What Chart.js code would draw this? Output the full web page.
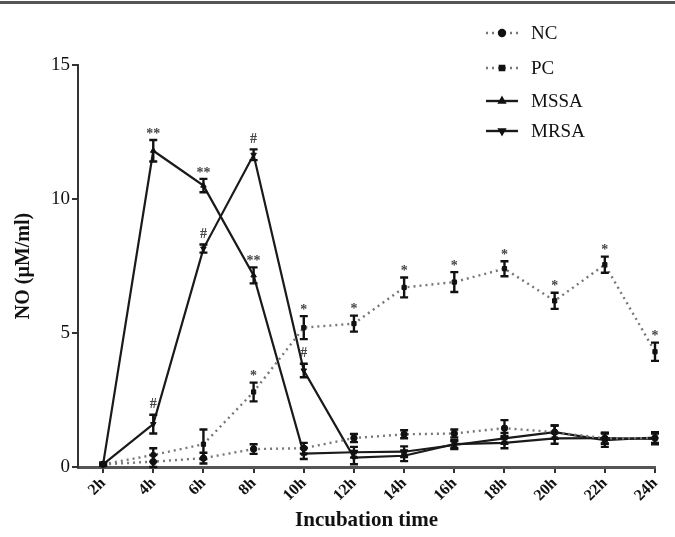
<!DOCTYPE html>
<html>
<head>
<meta charset="utf-8">
<script src="https://cdn.jsdelivr.net/npm/chart.js@4/dist/chart.umd.min.js"></script>
<style>
  html, body { margin: 0; padding: 0; background: #fff; }
  #wrap { width: 675px; height: 537px; }
</style>
</head>
<body>
<div id="wrap"><canvas id="chart" width="675" height="537"></canvas></div>
<script>
// incubation time points (hours)
const hours = [2, 4, 6, 8, 10, 12, 14, 16, 18, 20, 22, 24];
const yTicks = [0, 5, 10, 15];

const ncValues   = [0.1, 0.2, 0.33, 0.67, 0.7, 1.08, 1.22, 1.25, 1.45, 1.3, 1.07, 1.08];
const ncErr      = [0.05, 0.25, 0.2, 0.18, 0.2, 0.15, 0.15, 0.15, 0.3, 0.25, 0.2, 0.2];
const pcValues   = [0.1, 0.45, 0.85, 2.8, 5.2, 5.35, 6.7, 6.9, 7.4, 6.2, 7.55, 4.3];
const pcErr      = [0.05, 0.25, 0.55, 0.35, 0.43, 0.3, 0.37, 0.37, 0.28, 0.3, 0.3, 0.34];
const mssaValues = [0.1, 11.8, 10.5, 7.15, 0.5, 0.55, 0.57, 0.82, 1.07, 1.3, 1.0, 1.1];
const mssaErr    = [0.05, 0.4, 0.25, 0.3, 0.2, 0.2, 0.2, 0.15, 0.2, 0.25, 0.25, 0.2];
const mrsaValues = [0.1, 1.6, 8.15, 11.65, 3.6, 0.35, 0.42, 0.85, 0.9, 1.07, 1.08, 1.05];
const mrsaErr    = [0.05, 0.35, 0.15, 0.2, 0.25, 0.25, 0.2, 0.15, 0.2, 0.2, 0.2, 0.2];

// significance marks
const ncMarks   = ['', '', '', '', '', '', '', '', '', '', '', ''];
const pcMarks   = ['', '', '', '*', '*', '*', '*', '*', '*', '*', '*', '*'];
const mssaMarks = ['', '**', '**', '**', '', '', '', '', '', '', '', ''];
const mrsaMarks = ['', '#', '#', '#', '#', '', '', '', '', '', '', ''];

const toPoints = vals => hours.map((h, i) => ({ x: h, y: vals[i] }));

const series = [
  { label: 'NC', values: ncValues, err: ncErr, marks: ncMarks, dotted: true, style: 'circle', rot: 0 },
  { label: 'PC', values: pcValues, err: pcErr, marks: pcMarks, dotted: true, style: 'rect', rot: 0 },
  { label: 'MSSA', values: mssaValues, err: mssaErr, marks: mssaMarks, dotted: false, style: 'triangle', rot: 0 },
  { label: 'MRSA', values: mrsaValues, err: mrsaErr, marks: mrsaMarks, dotted: false, style: 'triangle', rot: 180 }
];

const datasets = series.map(s => ({
  label: s.label,
  data: toPoints(s.values),
  borderColor: s.dotted ? '#777' : '#1a1a1a',
  borderWidth: s.dotted ? 2.4 : 2.2,
  borderDash: s.dotted ? [2, 4] : [],
  pointStyle: s.style,
  rotation: s.rot,
  pointRadius: s.style === 'rect' ? 3 : 3.2,
  pointBackgroundColor: '#111',
  pointBorderColor: '#111',
  pointBorderWidth: 1,
  tension: 0,
  clip: false
}));

const serif = '"Liberation Serif", "Times New Roman", serif';

// error bars and significance marks
const errorBars = {
  id: 'errorBars',
  afterDatasetsDraw(chart) {
    const { ctx, scales: { x, y } } = chart;
    ctx.save();
    series.forEach(s => {
      hours.forEach((h, i) => {
        const px = x.getPixelForValue(h);
        const top = y.getPixelForValue(s.values[i] + s.err[i]);
        const bot = y.getPixelForValue(Math.max(0, s.values[i] - s.err[i]));
        ctx.strokeStyle = '#111';
        ctx.lineWidth = 2.4;
        ctx.beginPath();
        ctx.moveTo(px, top); ctx.lineTo(px, bot);
        ctx.moveTo(px - 4, top); ctx.lineTo(px + 4, top);
        ctx.moveTo(px - 4, bot); ctx.lineTo(px + 4, bot);
        ctx.stroke();
        if (s.marks[i]) {
          ctx.fillStyle = '#444';
          ctx.font = 'bold 14px ' + serif;
          ctx.textAlign = 'center';
          ctx.textBaseline = 'bottom';
          ctx.fillText(s.marks[i], px, s.marks[i] === '#' ? top - 3 : top + 1);
        }
      });
    });
    ctx.restore();
  }
};

// frame line at top and vertical legend
const decorations = {
  id: 'decorations',
  afterDraw(chart) {
    const ctx = chart.ctx;
    ctx.save();
    ctx.fillStyle = '#555';
    ctx.fillRect(0, 1, chart.width, 3);

    const rows = [33, 68, 101, 131];
    series.forEach((s, i) => {
      const yy = rows[i];
      ctx.strokeStyle = s.dotted ? '#777' : '#1a1a1a';
      ctx.lineWidth = 2.4;
      ctx.setLineDash(s.dotted ? [2, 4] : []);
      ctx.beginPath();
      ctx.moveTo(486, yy); ctx.lineTo(518, yy);
      ctx.stroke();
      ctx.setLineDash([]);
      ctx.fillStyle = '#111';
      ctx.strokeStyle = '#111';
      Chart.helpers.drawPoint(ctx, {
        pointStyle: s.style, rotation: s.rot, radius: 3, borderWidth: 1
      }, 502, yy);
      ctx.font = '19px ' + serif;
      ctx.textAlign = 'left';
      ctx.textBaseline = 'middle';
      ctx.fillText(s.label, 531, yy + 1);
    });
    ctx.restore();
  }
};

new Chart(document.getElementById('chart'), {
  type: 'line',
  data: { datasets },
  options: {
    responsive: false,
    animation: false,
    layout: { padding: { top: 65, right: 20, left: 0, bottom: 0 } },
    plugins: { legend: { display: false }, tooltip: { enabled: false } },
    scales: {
      x: {
        type: 'linear',
        min: 1,
        max: 24,
        afterBuildTicks: scale => { scale.ticks = hours.map(v => ({ value: v })); },
        afterFit: scale => { scale.height = 70; },
        grid: { drawOnChartArea: false, drawTicks: true, tickLength: 6, color: '#333', lineWidth: 2 },
        border: { display: true, color: '#555', width: 3 },
        ticks: {
          autoSkip: false,
          minRotation: 45,
          maxRotation: 45,
          padding: 1,
          color: '#111',
          font: { family: serif, size: 16, weight: 'bold' },
          callback: v => v + 'h'
        },
        title: {
          display: true,
          text: 'Incubation time',
          color: '#111',
          font: { family: serif, size: 21, weight: 'bold' },
          padding: { top: 0, bottom: 4 }
        }
      },
      y: {
        min: 0,
        max: 15,
        afterBuildTicks: scale => { scale.ticks = yTicks.map(v => ({ value: v })); },
        afterFit: scale => { scale.width = 78; },
        grid: { drawOnChartArea: false, drawTicks: true, tickLength: 6, color: '#333', lineWidth: 2 },
        border: { display: true, color: '#333', width: 2 },
        ticks: {
          padding: 2,
          color: '#111',
          font: { family: serif, size: 19 }
        },
        title: {
          display: true,
          text: 'NO (µM/ml)',
          color: '#111',
          font: { family: serif, size: 20, weight: 'bold' },
          padding: { top: 12, bottom: 4 }
        }
      }
    }
  },
  plugins: [errorBars, decorations]
});
</script>
</body>
</html>
